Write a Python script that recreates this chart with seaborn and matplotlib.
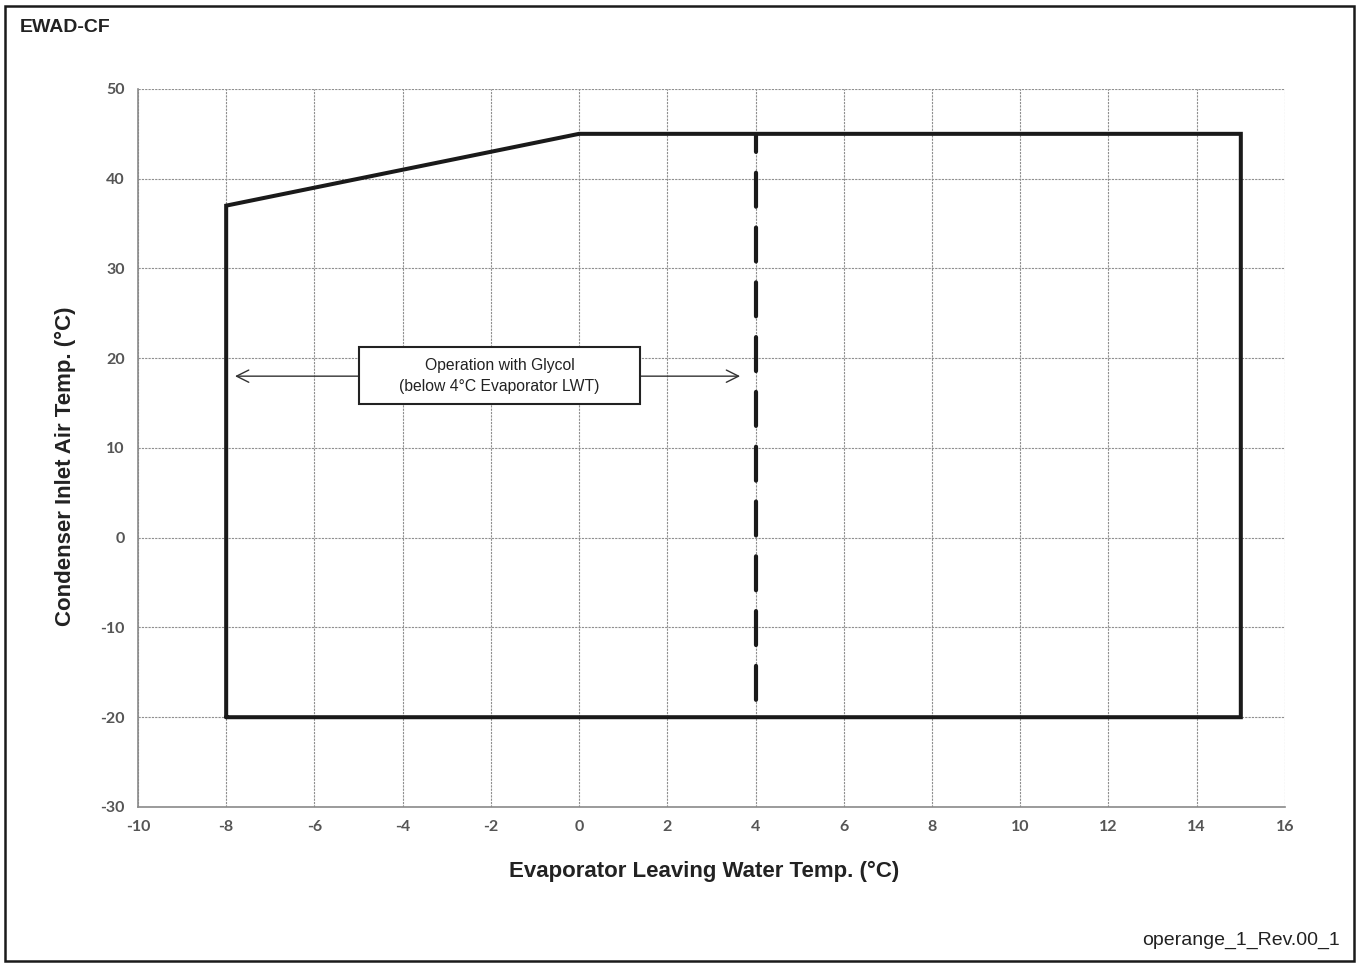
import matplotlib
matplotlib.use("Agg")
import matplotlib.pyplot as plt
import matplotlib.patches as patches
import seaborn as sns
import pandas as pd

# Operating envelope (closed polygon)
env_x = [-8, -8, 0, 15, 15, -8]
env_y = [-20, 37, 45, 45, -20, -20]

# 4°C glycol limit
glycol_x = [4, 4]
glycol_y = [45, -18.1]

x_ticks = list(range(-10, 17, 2))
y_ticks = list(range(-30, 51, 10))

sns.set_style("white")
plt.rcParams['font.family'] = ['Liberation Sans', 'DejaVu Sans']
plt.rcParams['axes.unicode_minus'] = False

fig = plt.figure(figsize=(13.59, 9.67), dpi=100)
ax = fig.add_axes([0.1015, 0.1655, 0.844, 0.7425])

env = pd.DataFrame({"x": env_x, "y": env_y})
sns.lineplot(data=env, x="x", y="y", sort=False, estimator=None, ax=ax,
             color="#1a1a1a", linewidth=2.9, solid_joinstyle="miter")
ax.plot(glycol_x, glycol_y, color="#1a1a1a", linewidth=3.0,
        linestyle=(3.85, (8.15, 5.0)), dash_capstyle="round")

ax.set_xlim(-10, 16)
ax.set_ylim(-30, 50)
ax.set_xticks(x_ticks)
ax.set_yticks(y_ticks)
ax.grid(True, color="#8f8f8f", linestyle=(0, (2, 1)), linewidth=0.8)
ax.set_axisbelow(True)

for s in ["top", "right"]:
    ax.spines[s].set_visible(False)
for s in ["left", "bottom"]:
    ax.spines[s].set_color("#8a8a8a")
    ax.spines[s].set_linewidth(1.2)

ax.tick_params(axis="both", direction="out", length=6, color="#8a8a8a",
               width=1.0, labelcolor="#555555", labelsize=11.5)
for lbl in ax.get_xticklabels() + ax.get_yticklabels():
    lbl.set_family(["Lato", "DejaVu Sans"])
    lbl.set_fontweight("bold")

ax.set_xlabel("Evaporator Leaving Water Temp. (°C)", fontsize=16,
              fontweight="bold", color="#222222")
ax.set_ylabel("Condenser Inlet Air Temp. (°C)", fontsize=16,
              fontweight="bold", color="#222222")
ax.xaxis.set_label_coords(0.4935, -0.075)
ax.yaxis.set_label_coords(-0.054, 0.475)

# arrows and label box
ax.annotate("", xy=(-7.8, 18), xytext=(-5.0, 18),
            arrowprops=dict(arrowstyle="->", color="#333333", lw=1.0,
                            mutation_scale=22, shrinkA=0, shrinkB=0))
ax.annotate("", xy=(3.65, 18), xytext=(1.38, 18),
            arrowprops=dict(arrowstyle="->", color="#333333", lw=1.0,
                            mutation_scale=22, shrinkA=0, shrinkB=0))
box = patches.Rectangle((-5.0, 14.9), 6.38, 6.35, facecolor="white",
                        edgecolor="#222222", linewidth=1.5, zorder=4)
ax.add_patch(box)
ax.text(-1.8, 18, "Operation with Glycol\n(below 4°C Evaporator LWT)",
        ha="center", va="center", fontsize=11.3, color="#222222",
        linespacing=1.55, zorder=5)

fig.text(20 / 1359, 1 - 28 / 967, "EWAD-CF", fontsize=14, fontweight="bold",
         color="#222222", va="center", ha="left")
fig.text(1340 / 1359, 1 - 940 / 967, "operange_1_Rev.00_1", fontsize=14,
         color="#222222", va="center", ha="right")

frame = patches.Rectangle((5 / 1359, 6 / 967), 1349 / 1359, 955 / 967,
                          transform=fig.transFigure, fill=False,
                          edgecolor="#1a1a1a", linewidth=1.8)
fig.patches.append(frame)

fig.savefig("out.png", dpi=100)
